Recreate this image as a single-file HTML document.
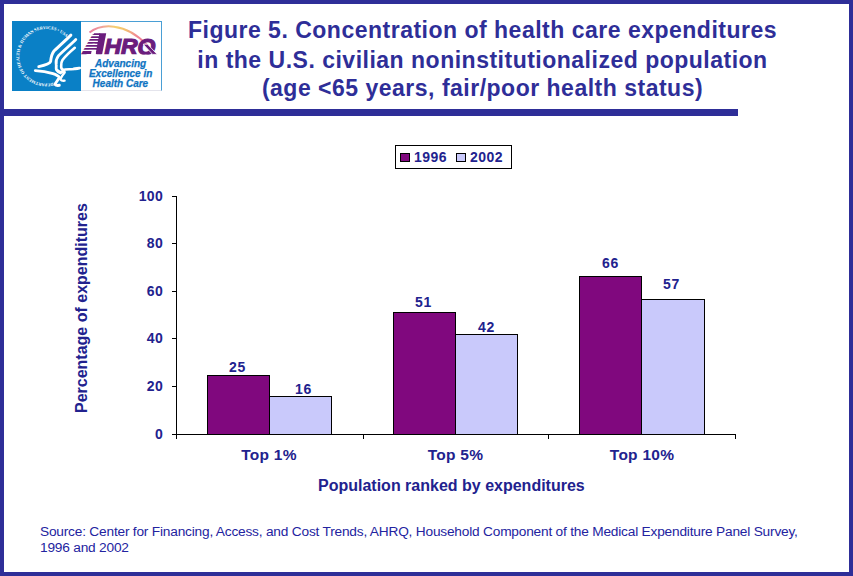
<!DOCTYPE html>
<html>
<head>
<meta charset="utf-8">
<style>
*{margin:0;padding:0;box-sizing:border-box}
html,body{width:853px;height:576px;overflow:hidden;background:#fff}
body{position:relative;font-family:"Liberation Sans",Arial,sans-serif;color:#2e2e98}
.frame{position:absolute;left:0;top:0;width:853px;height:576px;border:4px solid #2e2e98}
.abs{position:absolute;white-space:nowrap}
.title{position:absolute;left:0;width:965px;text-align:center;font-weight:bold;font-size:23px;letter-spacing:0.5px;line-height:22px;color:#2e2e98}
.rule{position:absolute;left:4px;top:109px;width:734px;height:7px;background:#2e2e98}
.hhs{position:absolute;left:12px;top:21px;width:69px;height:70px;background:#0a80c6}
.ahrq{position:absolute;left:81px;top:21px;width:81px;height:70px;border:1px solid #4a9fd5;border-left:none;border-bottom-color:#e4e4ec;background:#fff}
.bar{position:absolute;border:1px solid #000}
.b96{background:#80087e}
.b02{background:#c9c9fb}
.val{position:absolute;font-weight:bold;font-size:14px;line-height:14px;color:#22228e;letter-spacing:0.8px;white-space:nowrap}
.ylab{position:absolute;left:120px;width:43px;text-align:right;font-weight:bold;font-size:14px;line-height:14px;color:#22228e;letter-spacing:0.3px}
.xlab{position:absolute;width:120px;text-align:center;font-weight:bold;font-size:15.5px;line-height:16px;color:#22228e;letter-spacing:0.25px}
.hl{position:absolute;background:#000;height:1px}
.vl{position:absolute;background:#000;width:1px}
</style>
</head>
<body>
<div class="frame"></div>

<!-- logo -->
<div class="hhs"></div>
<svg class="abs" style="left:12px;top:21px" width="69" height="70" viewBox="12 21 69 70">
  <defs>
    <path id="ring" d="M 53.1,82.79 A 27.3,27.3 0 1 1 66.14,37.34"/>
  </defs>
  <text font-family="Liberation Serif, serif" font-size="4.4" font-weight="bold" fill="#fff"><textPath href="#ring" textLength="114" lengthAdjust="spacingAndGlyphs">DEPARTMENT OF HEALTH &amp; HUMAN SERVICES &#8226; USA</textPath></text>
  <g fill="none" stroke="#fff" stroke-linecap="round" stroke-linejoin="round">
    <path stroke-width="2.9" d="M70.9,35.1 C66,40 58,47 54,51 C51.5,54 51,58 50.6,61.5 C49.8,63.8 45,65.3 38.8,66.6"/>
    <path stroke-width="2.8" d="M75.8,39.6 C71,44.5 62,52 58.3,56 C56,59 55.8,62 56.2,64.5 C56.6,66.5 55.6,68 56.6,70 C57.6,71.5 59,72.5 60.5,73"/>
    <path stroke-width="2.6" d="M74.8,47.8 C71,51 66,55.5 62.5,60 C60.8,62.5 61.3,65 61.2,67 C61.2,68.5 62,69.5 63.5,70"/>
    <path stroke-width="2.6" d="M57.5,70.5 C59.5,72.5 62,72.6 64.5,71.8"/>
    <path stroke-width="2.9" d="M35.3,70.6 C41,70.8 48,72 53,73.6 C56,74.7 58.5,75.8 59.3,77.3 C58.5,79.5 56.2,82 55,84.3 C55.8,85.4 57.5,85.6 59.3,85.3"/>
    <path stroke-width="2.3" d="M64.6,72.8 C63,74.5 61.5,76.5 60.3,79.3 C61.2,80.6 63,80.9 64.6,80.7"/>
    <path stroke-width="2.4" d="M62.5,70.3 C66,68.6 69.5,69.6 73,69 C75.5,68.5 77.5,67.6 79.8,68"/>
    <path stroke-width="1.6" d="M72,69.2 C75,69.6 77.5,69.6 79.6,68.6"/>
  </g>
</svg>
<div class="ahrq"></div>
<svg class="abs" style="left:81px;top:21px" width="81" height="70" viewBox="81 21 81 70">
  <defs>
    <linearGradient id="arcg" x1="89" y1="0" x2="148" y2="0" gradientUnits="userSpaceOnUse">
      <stop offset="0" stop-color="#e8789e"/>
      <stop offset="0.22" stop-color="#f0a29a"/>
      <stop offset="0.45" stop-color="#f4d070"/>
      <stop offset="0.62" stop-color="#f3c070"/>
      <stop offset="0.8" stop-color="#f08a94"/>
      <stop offset="1" stop-color="#ee6e9a"/>
    </linearGradient>
  </defs>
  <path d="M89.5,32.6 C100,24 125,21 147.5,45.5" fill="none" stroke="url(#arcg)" stroke-width="2"/>
  <clipPath id="qclip"><rect x="81" y="21" width="81" height="33.4"/></clipPath>
  <text y="53.6" clip-path="url(#qclip)" font-family="Liberation Sans, sans-serif" font-weight="bold" font-style="italic" fill="#6b1d7d" stroke="#6b1d7d" stroke-width="1.2"><tspan x="82.6" font-size="28.5">A</tspan><tspan x="104.4" font-size="22" textLength="51" lengthAdjust="spacingAndGlyphs">HRQ</tspan></text>
  <g fill="#6b1d7d"><polygon points="94.1,33.2 100.3,33.2 100.0,35.0 93.1,35.0"/><polygon points="92.5,36.2 99.8,36.2 99.5,37.9 91.6,37.9"/><polygon points="90.9,39.1 99.3,39.1 99.0,40.8 90.0,40.8"/><polygon points="89.4,42.0 98.8,42.0 98.4,43.8 88.4,43.8"/><polygon points="87.8,45.0 98.2,45.0 97.9,46.8 86.8,46.8"/><polygon points="86.2,48.0 97.7,48.0 97.4,49.8 85.2,49.8"/><polygon points="84.6,51.0 91.8,51.0 91.2,54.0 83.0,54.0"/><polygon points="99.3,33.2 106.2,33.2 102.2,54 95.7,54"/></g>
  <g fill="#fff"><polygon points="80,35.0 98.98,35.0 98.77,36.2 80,36.2"/><polygon points="80,37.9 98.47,37.9 98.26,39.1 80,39.1"/><polygon points="80,40.8 97.96,40.8 97.75,42.0 80,42.0"/><polygon points="80,43.8 97.43,43.8 97.22,45.0 80,45.0"/><polygon points="80,46.8 96.91,46.8 96.70,48.0 80,48.0"/><polygon points="80,49.8 96.38,49.8 96.17,51.0 80,51.0"/><polygon points="91.8,51 95.9,51 95.4,55 91.2,55"/></g>
  <polygon points="143.2,44.2 147.6,44.2 157.2,54.4 152.6,54.4" fill="#6b1d7d" stroke="#fff" stroke-width="0.8"/>
  <g font-family="Liberation Sans, sans-serif" font-weight="bold" font-style="italic" font-size="10" fill="#0f74c2" stroke="#0f74c2" stroke-width="0.25" text-anchor="middle">
    <text x="120.6" y="66.9">Advancing</text>
    <text x="120.6" y="76.7">Excellence in</text>
    <text x="120.4" y="86.6">Health Care</text>
  </g>
</svg>

<!-- title -->
<div class="title" style="top:19px">Figure 5. Concentration of health care expenditures</div>
<div class="title" style="top:49px">in the U.S. civilian noninstitutionalized population</div>
<div class="title" style="top:77px">(age &lt;65 years, fair/poor health status)</div>
<div class="rule"></div>

<!-- legend -->
<div class="abs" style="left:395px;top:145px;width:117px;height:24px;border:1px solid #000"></div>
<div class="abs" style="left:400px;top:153px;width:10px;height:9px;border:1px solid #000;background:#80087e"></div>
<div class="abs" style="left:414px;top:150px;font-weight:bold;font-size:14px;line-height:14px;color:#22228e;letter-spacing:0.5px">1996</div>
<div class="abs" style="left:456px;top:153px;width:10px;height:9px;border:1px solid #000;background:#c9c9fb"></div>
<div class="abs" style="left:470px;top:150px;font-weight:bold;font-size:14px;line-height:14px;color:#22228e;letter-spacing:0.5px">2002</div>

<!-- axes -->
<div class="vl" style="left:176px;top:196px;height:243px"></div>
<div class="hl" style="left:172px;top:434px;width:564px"></div>
<div class="hl" style="left:172px;top:196px;width:4px"></div>
<div class="hl" style="left:172px;top:243px;width:4px"></div>
<div class="hl" style="left:172px;top:291px;width:4px"></div>
<div class="hl" style="left:172px;top:338px;width:4px"></div>
<div class="hl" style="left:172px;top:386px;width:4px"></div>
<div class="vl" style="left:363px;top:434px;height:5px"></div>
<div class="vl" style="left:548px;top:434px;height:5px"></div>
<div class="vl" style="left:735px;top:434px;height:5px"></div>

<!-- y labels -->
<div class="ylab" style="top:189px">100</div>
<div class="ylab" style="top:236px">80</div>
<div class="ylab" style="top:284px">60</div>
<div class="ylab" style="top:331px">40</div>
<div class="ylab" style="top:379px">20</div>
<div class="ylab" style="top:427px">0</div>

<!-- bars -->
<div class="bar b96" style="left:207px;top:375px;width:63px;height:60px"></div>
<div class="bar b02" style="left:269px;top:396px;width:63px;height:39px"></div>
<div class="bar b96" style="left:393px;top:312px;width:63px;height:123px"></div>
<div class="bar b02" style="left:455px;top:334px;width:63px;height:101px"></div>
<div class="bar b96" style="left:579px;top:276px;width:63px;height:159px"></div>
<div class="bar b02" style="left:641px;top:299px;width:64px;height:136px"></div>

<!-- values -->
<div class="val" style="left:229px;top:360px">25</div>
<div class="val" style="left:295px;top:382px">16</div>
<div class="val" style="left:415px;top:295px">51</div>
<div class="val" style="left:478px;top:320px">42</div>
<div class="val" style="left:602px;top:256px">66</div>
<div class="val" style="left:663px;top:277px">57</div>

<!-- x labels -->
<div class="xlab" style="left:209px;top:447px">Top 1%</div>
<div class="xlab" style="left:395.5px;top:447px">Top 5%</div>
<div class="xlab" style="left:582px;top:447px">Top 10%</div>

<!-- axis titles -->
<div class="abs" style="left:318px;top:478px;font-weight:bold;font-size:16px;line-height:16px;color:#22228e">Population ranked by expenditures</div>
<div class="abs" style="left:74px;top:413px;font-weight:bold;font-size:16px;line-height:16px;color:#22228e;transform-origin:0 0;transform:rotate(-90deg)">Percentage of expenditures</div>

<!-- source -->
<div class="abs" style="left:40px;top:524px;font-size:13.7px;line-height:16px;letter-spacing:-0.2px;color:#2323a0">Source: Center for Financing, Access, and Cost Trends, AHRQ, Household Component of the Medical Expenditure Panel Survey,<br>1996 and 2002</div>
</body>
</html>
